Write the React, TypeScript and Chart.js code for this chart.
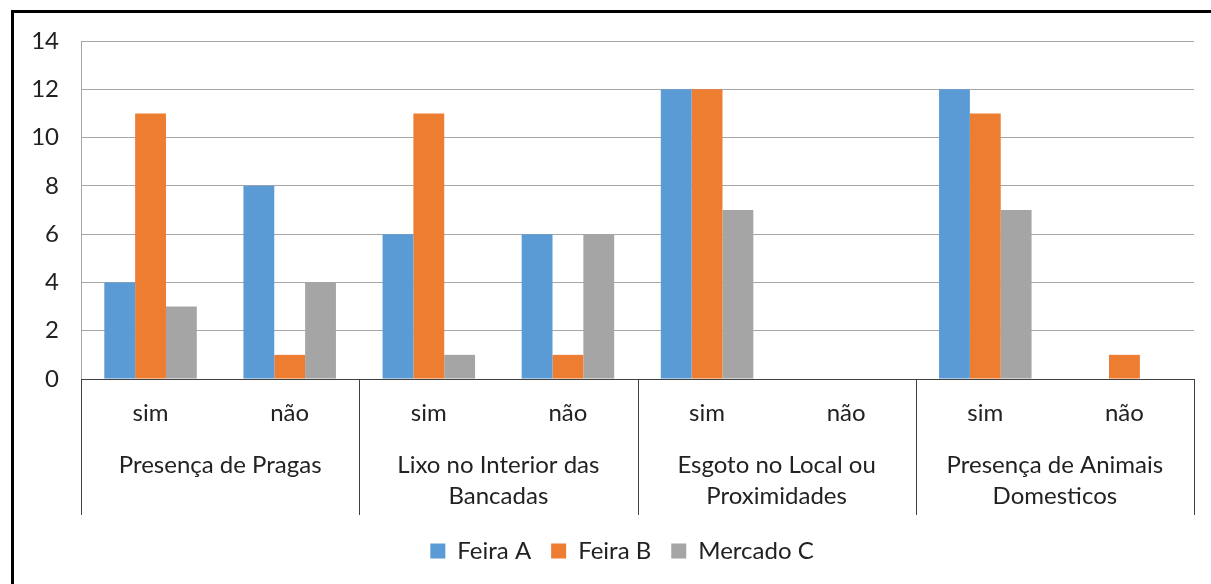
import React, { useEffect, useRef } from "react";
import { Chart, registerables } from "chart.js";

Chart.register(...registerables);

const categories = ["sim", "não", "sim", "não", "sim", "não", "sim", "não"];
const groupLabels = [
  ["Presença de Pragas"],
  ["Lixo no Interior das", "Bancadas"],
  ["Esgoto no Local ou", "Proximidades"],
  ["Presença de Animais", "Domesticos"],
];
const seriesNames = ["Feira A", "Feira B", "Mercado C"];
const feiraA = [4, 8, 6, 6, 12, 0, 12, 0];
const feiraB = [11, 1, 11, 1, 12, 0, 11, 1];
const mercadoC = [3, 4, 1, 6, 7, 0, 7, 0];
const colors = ["#5B9BD5", "#ED7D31", "#A5A5A5"];
const yMax = 14;
const yStep = 2;

const FONT = "Lato, 'Open Sans', sans-serif";
const FS = 24;
const TEXT = "#222222";

const legendShift = {
  id: "legendShift",
  afterLayout(chart: any) {
    const lg = chart.legend;
    if (lg) {
      lg.left += 25;
      lg.right += 25;
    }
  },
};

const groupPlugin = {
  id: "groupPlugin",
  afterDraw(chart: any) {
    const ctx = chart.ctx;
    const x = chart.scales.x;
    const area = chart.chartArea;
    const n = groupLabels.length;
    const w = x.right - x.left;
    ctx.save();
    ctx.strokeStyle = "#404040";
    ctx.lineWidth = 1;
    for (let g = 0; g <= n; g++) {
      const px = Math.round(x.left + (w * g) / n) + 0.5;
      ctx.beginPath();
      ctx.moveTo(px, area.bottom);
      ctx.lineTo(px, area.bottom + 136);
      ctx.stroke();
    }
    ctx.fillStyle = TEXT;
    ctx.font = `${FS}px ${FONT}`;
    ctx.textAlign = "center";
    ctx.textBaseline = "middle";
    groupLabels.forEach((lines, g) => {
      const cx = x.left + (w * (g + 0.5)) / n;
      lines.forEach((t, i) => {
        ctx.fillText(t, cx, area.bottom + 86 + i * 31);
      });
    });
    ctx.restore();
  },
};

export default function App() {
  const ref = useRef<HTMLCanvasElement>(null);
  useEffect(() => {
    if (!ref.current) return;
    const data = [feiraA, feiraB, mercadoC];
    const chart = new Chart(ref.current, {
      type: "bar",
      data: {
        labels: categories,
        datasets: seriesNames.map((name, i) => ({
          label: name,
          data: data[i],
          backgroundColor: colors[i],
          borderWidth: 0,
          categoryPercentage: 0.665,
          barPercentage: 1,
        })),
      },
      options: {
        responsive: false,
        animation: false,
        devicePixelRatio: 1,
        layout: { padding: { top: 41, right: 17, bottom: 11, left: 0 } },
        plugins: {
          legend: {
            position: "bottom",
            labels: {
              boxWidth: 15,
              boxHeight: 15,
              padding: 20,
              color: TEXT,
              font: { family: FONT, size: FS },
            },
          },
          tooltip: { enabled: false },
        },
        scales: {
          x: {
            grid: { display: false, drawTicks: false },
            border: { display: true, color: "#404040", width: 1 },
            ticks: {
              color: TEXT,
              font: { family: FONT, size: FS },
              padding: 20,
              maxRotation: 0,
              autoSkip: false,
            },
            afterFit(scale: any) {
              scale.height = 140;
            },
          },
          y: {
            min: 0,
            max: yMax,
            ticks: {
              stepSize: yStep,
              color: TEXT,
              font: { family: FONT, size: FS },
              padding: 22,
            },
            grid: { color: "#A6A6A6", lineWidth: 1, drawTicks: false },
            border: { display: true, color: "#A6A6A6" },
            afterFit(scale: any) {
              scale.width = 81;
            },
          },
        },
      } as any,
      plugins: [groupPlugin, legendShift],
    });
    return () => chart.destroy();
  }, []);

  return (
    <div
      style={{
        position: "absolute",
        left: 0,
        top: 0,
        width: 1211,
        height: 584,
        overflow: "hidden",
        background: "#ffffff",
      }}
    >
      <canvas ref={ref} width={1211} height={584} style={{ position: "absolute", left: 0, top: 0 }} />
      <div
        style={{
          position: "absolute",
          left: 11,
          top: 10,
          width: 1400,
          height: 800,
          border: "3px solid #000",
          pointerEvents: "none",
        }}
      />
    </div>
  );
}
